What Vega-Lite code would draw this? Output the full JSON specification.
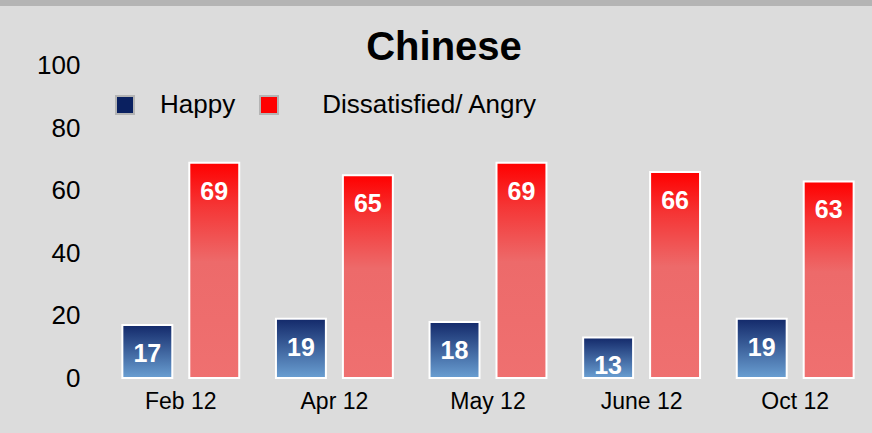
{
  "$schema": "https://vega.github.io/schema/vega-lite/v6.json",
  "width": 872,
  "height": 427,
  "autosize": {"type": "none"},
  "padding": {"left": 0, "top": 6, "right": 0, "bottom": 0},
  "background": "#b4b4b4",
  "config": {"view": {"fill": "#dcdcdc", "stroke": null}, "font": "Liberation Sans"},
  "title": {"text": "Chinese", "fontSize": 40, "fontWeight": "bold", "color": "#000000", "anchor": "middle", "offset": -62, "dx": 8},
  "data": {"values": [
    {"month": "Feb 12", "series": "Happy", "value": 17},
    {"month": "Feb 12", "series": "Dissatisfied/ Angry", "value": 69},
    {"month": "Apr 12", "series": "Happy", "value": 19},
    {"month": "Apr 12", "series": "Dissatisfied/ Angry", "value": 65},
    {"month": "May 12", "series": "Happy", "value": 18},
    {"month": "May 12", "series": "Dissatisfied/ Angry", "value": 69},
    {"month": "June 12", "series": "Happy", "value": 13},
    {"month": "June 12", "series": "Dissatisfied/ Angry", "value": 66},
    {"month": "Oct 12", "series": "Happy", "value": 19},
    {"month": "Oct 12", "series": "Dissatisfied/ Angry", "value": 63}
  ]},
  "encoding": {
    "x": {"field": "month", "type": "nominal", "sort": null,
      "scale": {"range": [104, 872], "paddingInner": 0.239, "paddingOuter": 0.1195},
      "axis": {"title": null, "domain": false, "ticks": false, "labelAngle": 0, "labelFontSize": 23, "labelColor": "#000000", "offset": -55, "labelPadding": 12}},
    "xOffset": {"field": "series", "type": "nominal", "sort": ["Happy", "Dissatisfied/ Angry"], "scale": {"domain": ["Happy", "Dissatisfied/ Angry"], "paddingInner": 0.254, "paddingOuter": 0}},
    "y": {"field": "value", "type": "quantitative",
      "scale": {"domain": [-17.6, 119.2], "nice": false, "zero": false},
      "axis": {"title": null, "values": [0, 20, 40, 60, 80, 100], "domain": false, "ticks": false, "grid": false, "labelFontSize": 26, "labelColor": "#000000", "offset": -82, "labelPadding": 2}}
  },
  "layer": [
    {"transform": [{"filter": "datum.series == 'Happy'"}],
     "mark": {"type": "bar", "stroke": "#ffffff", "strokeWidth": 2,
       "fill": {"gradient": "linear", "x1": 0, "y1": 0, "x2": 0, "y2": 1, "stops": [{"offset": 0, "color": "#13296a"}, {"offset": 1, "color": "#6a9fd2"}]}}},
    {"transform": [{"filter": "datum.series != 'Happy'"}],
     "mark": {"type": "bar", "stroke": "#ffffff", "strokeWidth": 2,
       "fill": {"gradient": "linear", "x1": 0, "y1": 0, "x2": 0, "y2": 1, "stops": [{"offset": 0, "color": "#ff0000"}, {"offset": 0.2, "color": "#f53535"}, {"offset": 0.46, "color": "#ed6a6a"}, {"offset": 1, "color": "#ef7070"}]}}},
    {"mark": {"type": "text", "baseline": "middle", "dy": 29, "fontSize": 25, "fontWeight": "bold", "color": "#ffffff"},
     "encoding": {"text": {"field": "value", "type": "quantitative"}}},
    {"mark": {"type": "square", "filled": true},
     "encoding": {
       "size": {"value": 0},
       "color": {"field": "series", "type": "nominal",
       "scale": {"domain": ["Happy", "Dissatisfied/ Angry"], "range": ["#0a2060", "#ff0000"]},
       "legend": {"orient": "none", "legendX": 112, "legendY": 86, "direction": "horizontal", "title": null,
         "symbolType": "square", "symbolSize": 324, "symbolStrokeColor": "#b4b4b4", "symbolStrokeWidth": 2, "symbolOpacity": 1,
         "labelFontSize": 26, "labelColor": "#000000", "labelOffset": 22, "columnPadding": 20, "labelLimit": 600,
         "labelExpr": "datum.label == 'Happy' ? datum.label : '\u2060\u2002\u2009' + datum.label"}}}}
  ]
}
